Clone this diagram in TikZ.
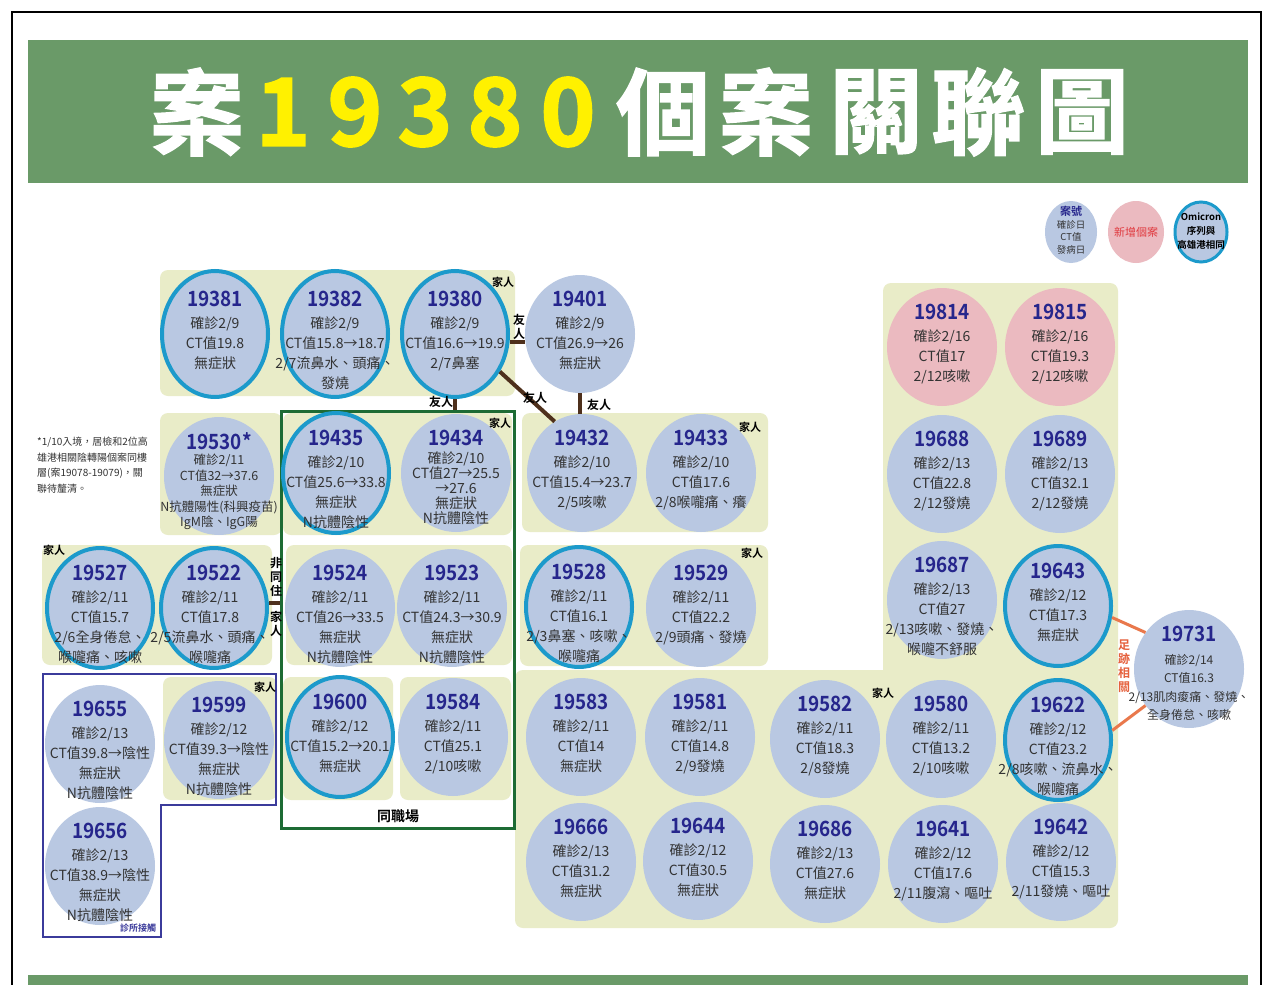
\documentclass[tikz,border=0pt]{standalone}
\usepackage{fontspec}
\setmainfont{Noto Sans CJK TC}[BoldFont={Noto Sans CJK TC Bold}]
\newfontfamily\numfont{Noto Sans CJK TC Bold}[FakeStretch=0.9]
\newfontfamily\titlefont{Noto Sans CJK TC Bold}[FakeBold=1.5]
\usetikzlibrary{shapes.geometric}
\definecolor{bandgreen}{HTML}{6A9A68}
\definecolor{titleyellow}{HTML}{FFF100}
\definecolor{nodeblue}{HTML}{B9C8E2}
\definecolor{pinkfill}{HTML}{EBBAC0}
\definecolor{ringblue}{HTML}{1C9ACB}
\definecolor{ybg}{HTML}{E9ECC8}
\definecolor{numblue}{HTML}{26268C}
\definecolor{txtgray}{HTML}{333333}
\definecolor{brownln}{HTML}{4E301C}
\definecolor{greenbox}{HTML}{1D6B34}
\definecolor{purpleln}{HTML}{3B3B9B}
\definecolor{orangeln}{HTML}{E9784C}
\definecolor{footred}{HTML}{E5603C}
\definecolor{legendred}{HTML}{E0393E}
\newcommand\csx[7][body]{%
  \node[#5] (#2) at (#3,#4) {};
  \node[numtxt] (#2n) at (#3,#4-35) {#6};
  \node[#1] (#2b) at (#3,#4-18) {#7};
}
\tikzset{
  cplain/.style={ellipse, fill=nodeblue, draw=none, inner sep=0pt, minimum width=110pt, minimum height=118pt},
  cpink/.style={cplain, fill=pinkfill},
  cring/.style={ellipse, fill=nodeblue, draw=ringblue, line width=4pt, inner sep=0pt, minimum width=106pt, minimum height=120pt},
  cringtall/.style={cring, minimum height=126pt},
  numtxt/.style={font=\numfont\fontsize{21}{21}\selectfont, text=numblue, inner sep=0pt},
  body/.style={font=\fontsize{14}{20}\selectfont, align=center, inner sep=0pt, text=txtgray, anchor=north},
  bodyleft/.style={body, xshift=-4pt},
  bodydense/.style={font=\fontsize{12.5}{15.5}\selectfont, align=center, inner sep=0pt, text=txtgray, anchor=north, yshift=4pt},
  bodydensetwo/.style={font=\fontsize{14}{15}\selectfont, align=center, inner sep=0pt, text=txtgray, anchor=north, yshift=4pt},
  bodysmall/.style={font=\fontsize{12}{18.5}\selectfont, align=center, inner sep=0pt, text=txtgray, anchor=north, yshift=-3pt},
  lbl/.style={font=\bfseries\fontsize{11}{13}\selectfont, inner sep=0pt, text=black},
  flbl/.style={font=\bfseries\fontsize{12}{14}\selectfont, inner sep=0pt, text=black, align=center},
  brownline/.style={draw=brownln, line width=4pt},
  orangeline/.style={draw=orangeln, line width=3pt},
  ybox/.style={fill=ybg, rounded corners=8pt},
  titletxt/.style={font=\titlefont\fontsize{94}{94}\selectfont, inner sep=0pt}
}
\begin{document}
\begin{tikzpicture}[x=1pt,y=-1pt]
\useasboundingbox (0,0) rectangle (1267,985);
\fill[white] (0,0) rectangle (1267,985);
\draw[black, line width=1.5pt] (12,12) rectangle (1261,1000);
% title band
\fill[bandgreen] (28,40) rectangle (1248,183);
\fill[bandgreen] (28,975) rectangle (1248,990);
\foreach \c/\x/\col [count=\i] in {案/197/white, 1/283/titleyellow, 9/355/titleyellow, 3/425/titleyellow, 8/495/titleyellow, 0/568/titleyellow, 個/663/white, 案/766/white, 關/876/white, 聯/978/white, 圖/1082/white}
  \node[titletxt, text=\col] (title\i) at (\x,112) {\c};
% legend
\node[ellipse, fill=nodeblue, inner sep=0pt, minimum width=52pt, minimum height=62pt] (lg1) at (1071,232) {};
\node[font=\bfseries\fontsize{11}{11}\selectfont, text=numblue, inner sep=0pt] (lg1a) at (1071,211) {案號};
\node[font=\fontsize{9.5}{12.5}\selectfont, text=txtgray, align=center, inner sep=0pt, anchor=north] (lg1b) at (1071,220) {確診日\\CT值\\發病日};
\node[ellipse, fill=pinkfill, inner sep=0pt, minimum width=56pt, minimum height=62pt] (lg2) at (1136,232) {};
\node[font=\fontsize{11}{11}\selectfont, text=legendred, inner sep=0pt] (lg2a) at (1136,232) {新增個案};
\node[ellipse, fill=nodeblue, draw=ringblue, line width=3pt, inner sep=0pt, minimum width=52pt, minimum height=60pt] (lg3) at (1201,232) {};
\node[font=\bfseries\fontsize{9.5}{14}\selectfont, text=black, align=center, inner sep=0pt] (lg3a) at (1201,231) {Omicron\\序列與\\高雄港相同};
% yellow backgrounds
\fill[ybox] (160,270) rectangle (515,396);
\fill[ybox] (160,413) rectangle (282,535);
\fill[ybox] (283,413) rectangle (512,535);
\fill[ybox] (522,413) rectangle (768,532);
\fill[ybox] (42,545) rectangle (272,665);
\fill[ybox] (286,545) rectangle (512,665);
\fill[ybox] (520,545) rectangle (768,666);
\fill[ybox] (163,677) rectangle (277,800);
\fill[ybox] (283,677) rectangle (393,800);
\fill[ybox] (400,677) rectangle (511,800);
\fill[ybox] (883,283) rectangle (1118,700);
\fill[ybox] (515,670) rectangle (1118,928);
% same workplace box
\node[draw=greenbox, line width=3pt, minimum width=233pt, minimum height=417pt, inner sep=0pt] (samejob) at (397.5,619.5) {};
\node[font=\bfseries\fontsize{14}{14}\selectfont, inner sep=0pt] (samejobl) at (398,816) {同職場};
% clinic contact polygon
\draw[purpleln, line width=2pt] (43,674) -- (276,674) -- (276,805) -- (161,805) -- (161,937) -- (43,937) -- cycle;
\node[font=\bfseries\fontsize{9}{9}\selectfont, text=purpleln, inner sep=0pt] (clinic) at (138,928) {診所接觸};
% note
\node[font=\fontsize{10}{15.5}\selectfont, text=txtgray, align=left, inner sep=0pt, anchor=north west] (note) at (37,437) {*1/10入境，居檢和2位高\\雄港相關陰轉陽個案同樓\\層(案19078-19079)，關\\聯待釐清。};
% cases
\csx{n19381}{215}{334}{cringtall}{19381}{確診2/9\\CT值19.8\\無症狀}
\csx{n19382}{335}{334}{cringtall}{19382}{確診2/9\\CT值15.8→18.7\\2/7流鼻水、頭痛、\\發燒}
\csx{n19380}{455}{334}{cringtall}{19380}{確診2/9\\CT值16.6→19.9\\2/7鼻塞}
\csx{n19401}{580}{334}{cplain}{19401}{確診2/9\\CT值26.9→26\\無症狀}
\csx[bodydense]{n19530}{219}{476}{cplain}{19530*}{確診2/11\\CT值32→37.6\\無症狀\\N抗體陽性(科興疫苗)\\IgM陰、IgG陽}
\csx{n19435}{336}{473}{cring}{19435}{確診2/10\\CT值25.6→33.8\\無症狀\\N抗體陰性}
\csx[bodydensetwo]{n19434}{456}{473}{cplain}{19434}{確診2/10\\CT值27→25.5\\→27.6\\無症狀\\N抗體陰性}
\csx{n19432}{582}{473}{cplain}{19432}{確診2/10\\CT值15.4→23.7\\2/5咳嗽}
\csx{n19433}{701}{473}{cplain}{19433}{確診2/10\\CT值17.6\\2/8喉嚨痛、癢}
\csx{n19527}{100}{608}{cring}{19527}{確診2/11\\CT值15.7\\2/6全身倦怠、\\喉嚨痛、咳嗽}
\csx[bodyleft]{n19522}{214}{608}{cring}{19522}{確診2/11\\CT值17.8\\2/5流鼻水、頭痛、\\喉嚨痛}
\csx{n19524}{340}{608}{cplain}{19524}{確診2/11\\CT值26→33.5\\無症狀\\N抗體陰性}
\csx{n19523}{452}{608}{cplain}{19523}{確診2/11\\CT值24.3→30.9\\無症狀\\N抗體陰性}
\csx{n19528}{579}{607}{cring}{19528}{確診2/11\\CT值16.1\\2/3鼻塞、咳嗽、\\喉嚨痛}
\csx{n19529}{701}{608}{cplain}{19529}{確診2/11\\CT值22.2\\2/9頭痛、發燒}
\csx{n19655}{100}{744}{cplain}{19655}{確診2/13\\CT值39.8→陰性\\無症狀\\N抗體陰性}
\csx{n19599}{219}{740}{cplain}{19599}{確診2/12\\CT值39.3→陰性\\無症狀\\N抗體陰性}
\csx{n19656}{100}{866}{cplain}{19656}{確診2/13\\CT值38.9→陰性\\無症狀\\N抗體陰性}
\csx{n19600}{340}{737}{cring}{19600}{確診2/12\\CT值15.2→20.1\\無症狀}
\csx{n19584}{453}{737}{cplain}{19584}{確診2/11\\CT值25.1\\2/10咳嗽}
\csx{n19583}{581}{737}{cplain}{19583}{確診2/11\\CT值14\\無症狀}
\csx{n19581}{700}{737}{cplain}{19581}{確診2/11\\CT值14.8\\2/9發燒}
\csx{n19582}{825}{739}{cplain}{19582}{確診2/11\\CT值18.3\\2/8發燒}
\csx{n19580}{941}{739}{cplain}{19580}{確診2/11\\CT值13.2\\2/10咳嗽}
\csx{n19622}{1058}{740}{cring}{19622}{確診2/12\\CT值23.2\\2/8咳嗽、流鼻水、\\喉嚨痛}
\csx{n19666}{581}{862}{cplain}{19666}{確診2/13\\CT值31.2\\無症狀}
\csx{n19644}{698}{861}{cplain}{19644}{確診2/12\\CT值30.5\\無症狀}
\csx{n19686}{825}{864}{cplain}{19686}{確診2/13\\CT值27.6\\無症狀}
\csx{n19641}{943}{864}{cplain}{19641}{確診2/12\\CT值17.6\\2/11腹瀉、嘔吐}
\csx{n19642}{1061}{862}{cplain}{19642}{確診2/12\\CT值15.3\\2/11發燒、嘔吐}
\csx{n19814}{942}{347}{cpink}{19814}{確診2/16\\CT值17\\2/12咳嗽}
\csx{n19815}{1060}{347}{cpink}{19815}{確診2/16\\CT值19.3\\2/12咳嗽}
\csx{n19688}{942}{474}{cplain}{19688}{確診2/13\\CT值22.8\\2/12發燒}
\csx{n19689}{1060}{474}{cplain}{19689}{確診2/13\\CT值32.1\\2/12發燒}
\csx{n19687}{942}{600}{cplain}{19687}{確診2/13\\CT值27\\2/13咳嗽、發燒、\\喉嚨不舒服}
\csx{n19643}{1058}{606}{cring}{19643}{確診2/12\\CT值17.3\\無症狀}
\csx[bodysmall]{n19731}{1189}{669}{cplain}{19731}{確診2/14\\CT值16.3\\2/13肌肉痠痛、發燒、\\全身倦怠、咳嗽}
% family labels
\node[lbl] (k1) at (503,282) {家人};
\node[lbl] (k2) at (500,423) {家人};
\node[lbl] (k3) at (750,427) {家人};
\node[lbl] (k4) at (54,550) {家人};
\node[lbl] (k5) at (752,553) {家人};
\node[lbl] (k6) at (265,687) {家人};
\node[lbl] (k7) at (883,693) {家人};
% connectors
\draw[brownline] (n19380.-8) -- (n19401.west |- n19380.-8);
\node[flbl] (f1) at (519,327) {友\\人};
\draw[brownline] (n19380.south) -- (samejob.north -| n19380.south);
\node[flbl] (f2) at (441,402) {友人};
\draw[brownline] (n19380.-40) -- (n19432.118);
\node[flbl] (f3) at (535,398) {友人};
\draw[brownline] (n19401.south) -- (n19401.south |- n19432.north);
\node[flbl] (f4) at (599,405) {友人};
\draw[brownline] (n19522.5) -- (samejob.west |- n19522.5);
\node[flbl] (f5) at (276,577) {非\\同\\住};
\node[flbl] (f6) at (276,624) {家\\人};
\draw[orangeline] (n19643.-12) -- (n19731.140);
\draw[orangeline] (n19622.10) -- (n19731.-140);
\node[flbl, text=footred] (foot) at (1124,666) {足\\跡\\相\\關};
\end{tikzpicture}
\end{document}
